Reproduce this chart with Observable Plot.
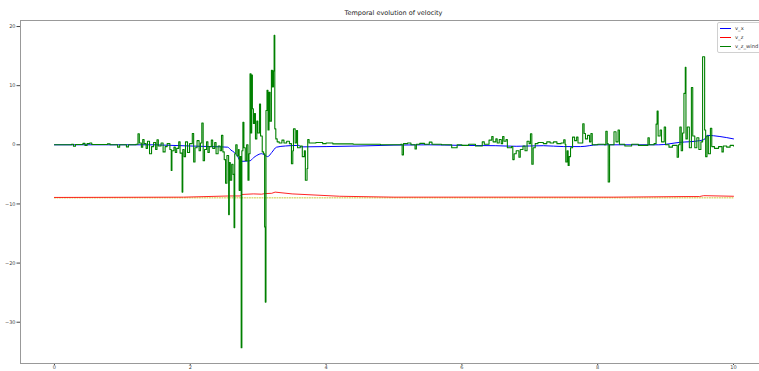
<!DOCTYPE html>
<html><head><meta charset="utf-8">
<script src="https://cdn.jsdelivr.net/npm/d3@7"></script>
<script src="https://cdn.jsdelivr.net/npm/@observablehq/plot@0.6"></script>
<style>
html,body{margin:0;padding:0;background:#fff;}
#wrap{position:relative;width:759px;height:371px;overflow:hidden;background:#fff;}
#title{position:absolute;left:0;top:9px;width:787px;text-align:center;font:6.5px "DejaVu Sans",sans-serif;color:#222;line-height:8px;}
#legend{position:absolute;left:717px;top:22px;width:70px;height:29px;border:1px solid #d0d0d0;border-radius:2px;background:rgba(255,255,255,0.85);font:5.2px "DejaVu Sans",sans-serif;color:#333;}
.row{position:absolute;left:2px;height:8px;display:flex;align-items:center;white-space:nowrap;}
.sw{width:11px;height:0;border-top:1.2px solid;margin-right:4px;}
</style></head>
<body><div id="wrap"></div>
<script>
// ---- data ----
const xTicks = [0, 2, 4, 6, 8, 10];
const yTicks = [20, 10, 0, -10, -20, -30];
const xDomain = [-0.5, 10.383];
const yDomain = [-36.98, 21.02];
const titleText = "Temporal evolution of velocity";
const seriesNames = ["v_x", "v_z", "v_z_wind"];
const seriesColors = ["#0000ff", "#ff0000", "#008000"];

const vxT = [0,1.5,1.6,2.0,2.3,2.55,2.6,2.65,2.7,2.74,2.88,2.93,2.98,3.05,3.1,3.14,3.2,3.27,3.4,3.6,3.63,4.0,4.5,5.0,5.5,6.0,6.5,6.8,7.2,7.5,7.75,8.0,8.9,9.2,9.5,9.58,9.61,9.8,10.0];
const vxV = [0,0,-0.05,-0.2,-0.3,-0.4,-0.9,-1.3,-2.0,-2.8,-2.7,-2.2,-1.8,-1.5,-1.8,-2.0,-1.3,-0.4,-0.2,-0.1,-0.35,-0.3,-0.2,-0.05,0,-0.1,-0.15,-0.25,-0.15,-0.3,-0.3,0,0,0.4,0.7,1.0,1.6,1.4,1.0];

const vzT = [0,1.9,2.58,2.74,2.76,2.93,3.05,3.1,3.2,3.25,3.5,4.2,5.0,8.24,9.3,9.5,9.56,10.0];
const vzV = [-8.9,-8.85,-8.65,-8.65,-8.4,-8.3,-8.35,-8.25,-8.2,-8.0,-8.3,-8.7,-8.85,-8.85,-8.75,-8.75,-8.6,-8.7];

const refT = [0, 10];
const refV = [-8.97, -8.97];

const windT = [0,0.25,0.28,0.31,0.42,0.45,0.48,0.52,0.55,0.78,0.82,0.93,0.96,1.06,1.09,1.2,1.23,1.25,1.28,1.30,1.32,1.35,1.37,1.40,1.43,1.46,1.49,1.51,1.53,1.57,1.60,1.63,1.66,1.70,1.72,1.73,1.76,1.78,1.80,1.83,1.85,1.88,1.89,1.91,1.93,1.96,1.99,2.03,2.05,2.07,2.10,2.13,2.15,2.17,2.19,2.21,2.24,2.26,2.28,2.31,2.33,2.36,2.38,2.41,2.44,2.46,2.48,2.50,2.52,2.54,2.565,2.575,2.59,2.61,2.63,2.645,2.655,2.67,2.69,2.71,2.72,2.735,2.75,2.76,2.775,2.79,2.81,2.83,2.85,2.865,2.88,2.895,2.905,2.915,2.93,2.945,2.96,2.98,2.995,3.02,3.035,3.06,3.08,3.095,3.105,3.115,3.13,3.145,3.16,3.175,3.195,3.21,3.225,3.235,3.245,3.26,3.28,3.31,3.35,3.38,3.42,3.46,3.49,3.51,3.52,3.545,3.565,3.58,3.62,3.65,3.68,3.695,3.72,3.73,3.75,3.85,3.95,4.0,4.1,4.4,4.8,5.10,5.12,5.14,5.2,5.25,5.31,5.33,5.38,5.45,5.52,5.56,5.7,5.85,5.93,6.0,6.1,6.2,6.3,6.33,6.40,6.44,6.46,6.50,6.52,6.55,6.58,6.60,6.62,6.65,6.67,6.73,6.75,6.77,6.80,6.84,6.86,6.90,6.93,6.96,6.99,7.01,7.03,7.05,7.08,7.12,7.2,7.25,7.3,7.35,7.40,7.46,7.50,7.52,7.53,7.55,7.565,7.58,7.60,7.63,7.66,7.69,7.71,7.78,7.80,7.82,7.85,7.88,7.90,7.92,8.0,8.1,8.12,8.14,8.155,8.175,8.24,8.27,8.30,8.32,8.4,8.5,8.6,8.74,8.76,8.83,8.86,8.875,8.89,8.92,8.94,8.98,9.0,9.05,9.1,9.17,9.19,9.21,9.23,9.25,9.27,9.29,9.30,9.32,9.35,9.38,9.40,9.43,9.46,9.49,9.52,9.545,9.575,9.59,9.61,9.63,9.66,9.68,9.72,9.78,9.83,9.85,9.9,9.95,10.0];
const windV = [0.0,0.1,-0.25,0.05,0.25,-0.1,0.2,0.3,0.05,0.15,0.0,-0.4,0.0,-0.35,0.0,0.1,1.86,0.3,-0.4,0.9,0.2,-0.6,0.6,-1.5,-0.3,0.4,-0.8,0.85,-0.2,0.3,-1.2,-0.3,0.2,-0.8,-4.35,-1.0,-0.4,-1.3,-0.6,0.5,-1.4,-8.0,-0.8,-2.0,0.5,-1.3,0.2,1.9,-2.9,-0.5,0.7,-1.0,0.3,3.7,-2.7,-0.8,0.5,-1.3,-0.3,0.8,-0.6,0.4,-1.5,-0.2,-1.0,1.6,-1.2,-2.5,-6.5,-1.8,-11.8,-3.0,-6.0,-3.3,-5.0,-14.0,-1.5,0.0,-1.9,-0.8,-7.7,-2.0,-34.3,-1.0,3.8,-0.5,-2.7,0.0,-6.0,-1.5,12.0,2.0,11.8,6.1,3.6,5.3,1.0,4.0,2.0,6.9,1.5,-1.2,-1.5,-13.9,-26.6,5.8,9.2,2.5,8.9,4.0,12.6,9.8,12.5,18.5,2.7,1.0,0.5,0.3,0.8,0.3,0.6,0.2,-3.2,-1.0,2.7,0.3,2.4,-0.5,-0.2,-2.0,-1.0,-6.0,-4.0,0.9,0.3,0.4,0.2,0.3,0.15,0.1,0.0,0.1,-1.7,0.2,0.3,0.0,-0.7,0.1,0.25,0.1,0.45,0.1,0.0,-0.5,0.0,-0.1,0.1,-0.2,0.5,0.1,0.8,1.4,0.5,1.0,0.3,0.9,0.2,1.4,0.6,0.9,-0.5,-0.3,-2.5,-1.5,-1.0,-2.1,-0.8,-0.2,-1.0,0.6,0.2,1.86,-3.3,-0.5,0.2,0.4,0.2,0.5,0.3,0.5,0.2,0.3,0.85,0.1,-2.9,-1.0,-3.5,-2.0,-0.5,1.3,0.7,1.3,0.3,3.55,1.9,1.0,1.6,0.5,1.9,0.0,0.1,0.0,2.3,0.2,-6.3,0.0,2.2,0.5,2.5,0.1,-0.2,0.1,-0.1,1.2,0.0,0.2,3.5,5.7,1.5,2.5,0.5,3.0,0.0,-0.4,-0.1,-2.1,0.0,3.0,-1.0,2.0,8.7,13.1,1.0,3.0,-0.5,9.7,1.5,-0.5,1.2,-0.8,0.5,14.9,2.5,-2.0,1.5,-1.5,2.8,-0.3,-0.6,-0.3,-1.2,-0.2,-0.4,-0.1,-0.2];

// ---- build tables ----
const zip = (t, v) => t.map((x, i) => ({x, y: v[i]}));
const vx = zip(vxT, vxV), vz = zip(vzT, vzV), ref = zip(refT, refV), wind = zip(windT, windV);

const plot = Plot.plot({
  width: 759, height: 371,
  marginLeft: 20, marginRight: 0, marginTop: 20, marginBottom: 8,
  style: {fontFamily: "DejaVu Sans, sans-serif", fontSize: "5px", color: "#444", background: "#fff"},
  x: {domain: xDomain, ticks: xTicks, tickSize: 2, tickPadding: 0, label: null},
  y: {domain: yDomain, ticks: yTicks, tickSize: 3.5, tickPadding: 1.5, label: null},
  marks: [
    Plot.ruleX([xDomain[0]], {stroke: "#999", strokeWidth: 1}),
    Plot.ruleY([yDomain[0], yDomain[1]], {stroke: "#999", strokeWidth: 1}),
    Plot.line(ref, {x: "x", y: "y", stroke: "#c8c832", strokeWidth: 1, strokeDasharray: "1,1.5"}),
    Plot.line(vx, {x: "x", y: "y", stroke: seriesColors[0], strokeWidth: 1, curve: "monotone-x"}),
    Plot.line(vz, {x: "x", y: "y", stroke: seriesColors[1], strokeWidth: 1, strokeOpacity: 0.85}),
    Plot.line(wind, {x: "x", y: "y", stroke: seriesColors[2], strokeWidth: 1.1, curve: "step-after"})
  ]
});

const wrap = document.getElementById("wrap");
wrap.appendChild(plot);
const t = document.createElement("div"); t.id = "title"; t.textContent = titleText; wrap.appendChild(t);
const lg = document.createElement("div"); lg.id = "legend";
seriesNames.forEach((n, i) => {
  const r = document.createElement("div"); r.className = "row"; r.style.top = (1 + i * 9.2) + "px";
  const s = document.createElement("span"); s.className = "sw"; s.style.borderTopColor = seriesColors[i];
  const l = document.createElement("span"); l.textContent = n;
  r.appendChild(s); r.appendChild(l); lg.appendChild(r);
});
wrap.appendChild(lg);
</script></body></html>
